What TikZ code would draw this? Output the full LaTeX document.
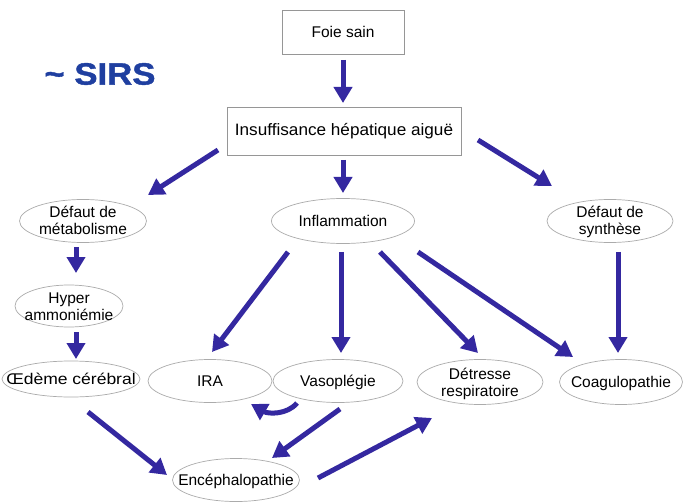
\documentclass[tikz,border=0pt]{standalone}
\usepackage{fontspec}
\setmainfont{Liberation Sans}
\usetikzlibrary{arrows.meta,shapes.geometric,calc}
\definecolor{arrowblue}{RGB}{52,40,160}
\definecolor{sirsblue}{RGB}{31,63,160}
\definecolor{edgegray}{RGB}{150,150,150}
\newcommand\etxt[1]{\makebox[0pt]{\raisebox{-5.7pt}[0pt][0pt]{\begin{tabular}{@{}c@{}}#1\end{tabular}}}}
\begin{document}
\begin{tikzpicture}[x=1pt,y=-1pt,
  boxnode/.style={draw=edgegray,line width=0.9pt,rectangle,inner sep=0pt,font=\fontsize{15.5}{18}\selectfont},
  ellnode/.style={draw=edgegray!80,line width=0.7pt,ellipse,inner sep=0pt,outer sep=0pt,font=\fontsize{15.5}{17}\selectfont},
  arr/.style={draw=arrowblue,line width=5pt,-{Triangle[length=16pt,width=18pt]}}]
\useasboundingbox[fill=white] (0,0) rectangle (684,502);

\node[boxnode,minimum width=122pt,minimum height=44pt] (fs) at (343,32) {Foie sain};
\node[boxnode,minimum width=234pt,minimum height=48pt,font=\fontsize{16.5}{18}\selectfont] (iha) at (344,131) {\scalebox{1.04}[1]{Insuffisance hépatique aiguë}};
\node[text=sirsblue,font=\fontsize{31}{34}\selectfont\bfseries\addfontfeature{FakeBold=1.2}] (sirs) at (100,74) {\scalebox{1.12}[1]{\textasciitilde\ SIRS}};

\node[ellnode,minimum width=127pt,minimum height=43pt] (dm) at (83,221) {\etxt{Défaut de\\métabolisme}};
\node[ellnode,minimum width=143pt,minimum height=45pt] (infl) at (343,221) {\etxt{Inflammation}};
\node[ellnode,minimum width=126pt,minimum height=43pt] (ds) at (610,221) {\etxt{Défaut de\\synthèse}};
\node[ellnode,minimum width=108pt,minimum height=42pt] (ha) at (69,306) {\etxt{Hyper\\ammoniémie}};
\node[ellnode,minimum width=138pt,minimum height=36pt] (oe) at (71,379) {\etxt{\scalebox{1.13}[1]{Œdème cérébral}}};
\node[ellnode,minimum width=124pt,minimum height=43pt] (ira) at (210,381) {\etxt{IRA}};
\node[ellnode,minimum width=130pt,minimum height=43pt] (vaso) at (338,381) {\etxt{Vasoplégie}};
\node[ellnode,minimum width=126pt,minimum height=45pt] (detr) at (480,382) {\etxt{Détresse\\respiratoire}};
\node[ellnode,minimum width=123pt,minimum height=45pt] (coag) at (621,382) {\etxt{Coagulopathie}};
\node[ellnode,minimum width=127pt,minimum height=43pt] (ence) at (236,480) {\etxt{Encéphalopathie}};

\draw[arr] ($(fs)+(0,28)$) -- ($(iha)+(-1,-28)$);
\draw[arr] ($(iha)+(-126,19)$) -- ($(dm)+(65,-26)$);
\draw[arr] ($(iha)+(-1,29)$) -- ($(infl)+(0,-28)$);
\draw[arr] ($(iha)+(134,9)$) -- ($(ds)+(-58,-35)$);
\draw[arr] ($(dm)+(-7,26)$) -- ($(ha)+(7,-33)$);
\draw[arr] ($(ha)+(7,26)$) -- ($(oe)+(5,-20)$);
\draw[arr] ($(infl)+(-55,31)$) -- ($(ira)+(2,-29)$);
\draw[arr] ($(infl)+(-2,31)$) -- ($(vaso)+(3,-28)$);
\draw[arr] ($(infl)+(37,31)$) -- ($(detr)+(-2,-29)$);
\draw[arr] ($(infl)+(75,31)$) -- ($(coag)+(-48,-25)$);
\draw[arr] ($(ds)+(8,31)$) -- ($(coag)+(-3,-29)$);
\draw[arr] ($(vaso)+(-41,22)$) .. controls ($(vaso)+(-51,34)$) and ($(ira)+(58,33)$) .. ($(ira)+(41,23)$);
\draw[arr] ($(vaso)+(2,28)$) -- ($(ence)+(36,-22)$);
\draw[arr] ($(oe)+(17,33)$) -- ($(ence)+(-69,-5)$);
\draw[arr] ($(ence)+(82,-2)$) -- ($(detr)+(-48,36)$);
\end{tikzpicture}
\end{document}
